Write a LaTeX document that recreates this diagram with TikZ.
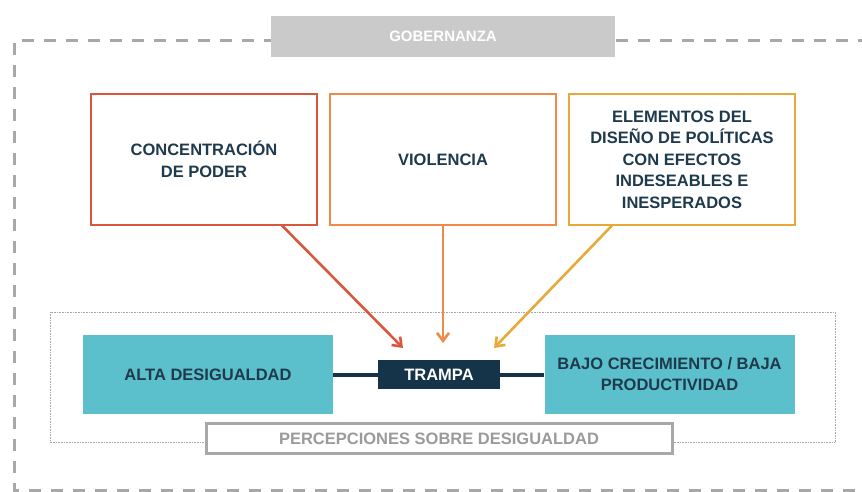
\documentclass[tikz,border=0pt]{standalone}
\usepackage{fontspec}
\setmainfont{Liberation Sans}
\usetikzlibrary{arrows.meta}
\definecolor{navy}{HTML}{1E3A4C}
\definecolor{trap}{HTML}{163449}
\definecolor{teal}{HTML}{5BC0CC}
\definecolor{cred}{HTML}{D9573F}
\definecolor{corange}{HTML}{EE8A4A}
\definecolor{cgold}{HTML}{E8A93A}
\definecolor{gframe}{HTML}{A8A8A8}
\definecolor{gbox}{HTML}{CACACA}
\definecolor{gtext}{HTML}{9A9A9A}
\tikzset{
  factor/.style={draw=#1, line width=2pt, fill=white, minimum width=226pt, minimum height=130pt, align=center, font=\bfseries\fontsize{16.5}{21.5}\selectfont, text=navy, inner sep=0pt},
  tealbox/.style={fill=teal, minimum width=250pt, minimum height=79pt, align=center, font=\bfseries\fontsize{16.5}{21}\selectfont, text=navy, inner sep=0pt},
  arr/.style={draw=#1, line width=2.6pt, -{Straight Barb[length=8pt,width=12pt,line width=2.6pt]}}
}
\begin{document}
\begin{tikzpicture}[x=1pt,y=-1pt]
\useasboundingbox (0,0) rectangle (862,492);
\begin{scope}
\clip (0,0) rectangle (862,492);
\draw[gframe, line width=3pt, dash pattern=on 12pt off 10pt] (870,41) -- (14,41) -- (14,490) -- (870,490);
\end{scope}
\node[fill=gbox, minimum width=344pt, minimum height=41pt, text=white, font=\bfseries\fontsize{15}{17}\selectfont, inner sep=0pt] (gob) at (443,36.5) {GOBERNANZA};
\node[factor=cred] (poder) at (204,159.5) {CONCENTRACIÓN\\DE PODER};
\node[factor=corange] (viol) at (443,159.5) {VIOLENCIA};
\node[factor=cgold] (dis) at (682,159.5) {ELEMENTOS DEL\\DISEÑO DE POLÍTICAS\\CON EFECTOS\\INDESEABLES E\\INESPERADOS};
\draw[gframe, densely dotted, line width=0.6pt] (50,312) rectangle (835,442);
\node[tealbox] (alta) at (208,374.5) {ALTA DESIGUALDAD};
\node[tealbox] (bajo) at (669.5,374.5) {BAJO CRECIMIENTO / BAJA\\PRODUCTIVIDAD};
\node[fill=trap, minimum width=122pt, minimum height=29pt, text=white, font=\bfseries\fontsize{16.5}{18}\selectfont, inner sep=0pt] (trampa) at (439,374.5) {TRAMPA};
\draw[trap, line width=4pt] (alta.east) -- (trampa.west);
\draw[trap, line width=4pt] (trampa.east) -- (bajo.west);
\node[draw=gframe, line width=3pt, fill=white, minimum width=466pt, minimum height=30pt, text=gtext, font=\bfseries\fontsize{16.5}{18}\selectfont, inner sep=0pt] (perc) at (439,438.5) {PERCEPCIONES SOBRE DESIGUALDAD};
\coordinate (a1) at (403,348);
\coordinate (a2) at (443,343);
\coordinate (a3) at (494,348);
\draw[arr=cred] (poder.south -| 282,0) -- (a1);
\draw[arr=corange] (viol.south) -- (a2);
\draw[arr=cgold] (dis.south -| 612,0) -- (a3);
\end{tikzpicture}
\end{document}
